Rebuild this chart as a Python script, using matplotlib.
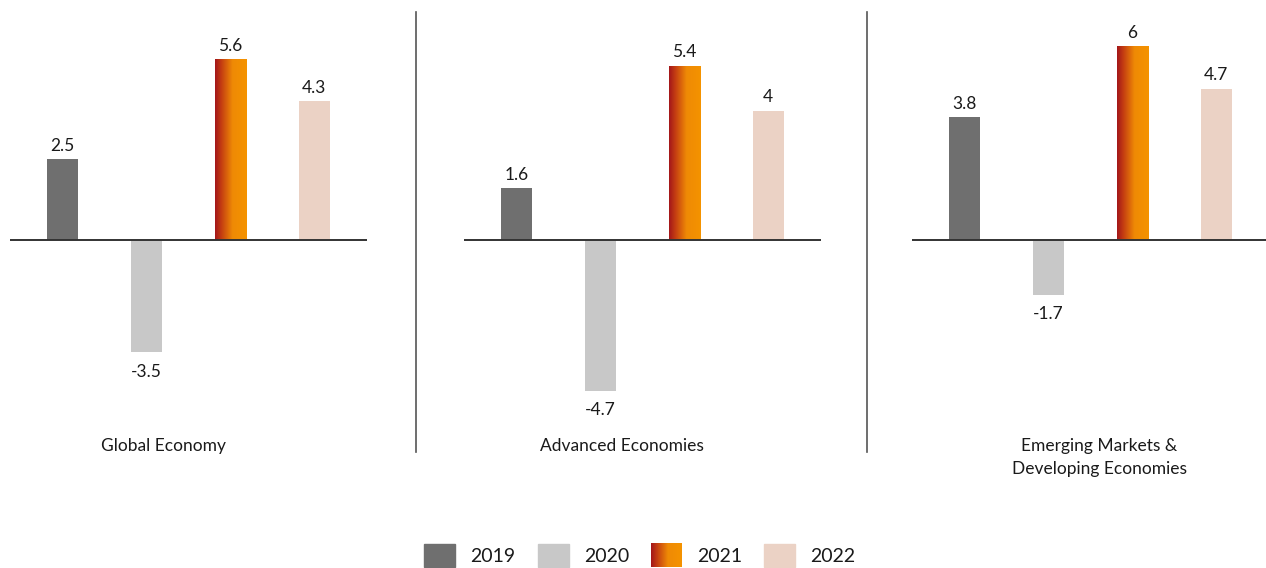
"""Crescimento do PIB por grupo de economias, 2019-2022 (três painéis)."""

import matplotlib

matplotlib.use("Agg")
import matplotlib.pyplot as plt  # noqa: E402
import numpy as np  # noqa: E402
from matplotlib.colors import LinearSegmentedColormap  # noqa: E402
from matplotlib.patches import Rectangle  # noqa: E402

plt.rcParams["font.family"] = ["Lato", "DejaVu Sans"]

years = ["2019", "2020", "2021", "2022"]
groups = ["Global Economy", "Advanced Economies", "Emerging Markets &\nDeveloping Economies"]
global_vals = [2.5, -3.5, 5.6, 4.3]
advanced_vals = [1.6, -4.7, 5.4, 4.0]
emerging_vals = [3.8, -1.7, 6.0, 4.7]
values = [global_vals, advanced_vals, emerging_vals]

COLORS = ["#6f6f6f", "#c8c8c8", None, "#ebd2c5"]
GRAD = LinearSegmentedColormap.from_list(
    "ing", [(0, "#a3161a"), (0.2, "#c43d12"), (0.55, "#ef8a05"), (1, "#f59300")])
TEXT = "#1a1a1a"

W, H = 1266, 568
fig = plt.figure(figsize=(W / 100, H / 100), dpi=100)

BAR_W = 0.37
XLIM = (-0.63, 3.63)
YLIM = (-6.5, 7.45)
lefts = [10, 464, 912]
label_cx = [164, 622, 1099]  # centro (px) do nome do grupo sob cada painel


def fx(px):
    return px / W


def fy(py):
    return 1 - py / H


for left, grupo, vals in zip(lefts, groups, values):
    ax = fig.add_axes((fx(left), fy(449), fx(357), 449 / H))
    ax.set_xlim(*XLIM)
    ax.set_ylim(*YLIM)
    ax.axis("off")
    xs = np.arange(len(years))
    for i, (x, v) in enumerate(zip(xs, vals)):
        if COLORS[i] is None:
            grad = np.linspace(0, 1, 256).reshape(1, -1)
            ax.imshow(grad, cmap=GRAD, aspect="auto", zorder=2,
                      extent=(x - BAR_W / 2, x + BAR_W / 2, 0, v))
        else:
            ax.bar(x, v, width=BAR_W, color=COLORS[i], zorder=2)
        txt = f"{v:g}"
        if v >= 0:
            ax.annotate(txt, (x, v), xytext=(0, 4), textcoords="offset points",
                        ha="center", va="bottom", fontsize=12.5, color=TEXT)
        else:
            ax.annotate(txt, (x, v), xytext=(0, -8), textcoords="offset points",
                        ha="center", va="top", fontsize=12.5, color=TEXT)
    ax.set_xlim(*XLIM)
    ax.set_ylim(*YLIM)
    ax.axhline(0, color="#333333", lw=1.4, zorder=3)

for cx, grupo in zip(label_cx, groups):
    fig.text(fx(cx), fy(438), grupo, ha="center", va="top", fontsize=12.5,
             color=TEXT, linespacing=1.55)

# separadores verticais entre painéis
for xsep in [416, 867]:
    fig.add_artist(plt.Line2D([fx(xsep)] * 2, [fy(12), fy(452)],
                              color="#555555", lw=1.2))

# legenda manual (para suportar o gradiente do 2021)
lax = fig.add_axes((0, 0, 1, 1), zorder=-1)
lax.set_xlim(0, W)
lax.set_ylim(H, 0)
lax.axis("off")
leg_x = [424, 538, 651, 764]
for i, (x0, ano) in enumerate(zip(leg_x, years)):
    if COLORS[i] is None:
        grad = np.linspace(0, 1, 256).reshape(1, -1)
        lax.imshow(grad, cmap=GRAD, aspect="auto", extent=(x0, x0 + 31, 567, 543))
    else:
        lax.add_patch(Rectangle((x0, 544), 31, 23, color=COLORS[i]))
    lax.text(x0 + 46, 556, ano, ha="left", va="center", fontsize=14, color=TEXT)
lax.set_xlim(0, W)
lax.set_ylim(H, 0)

fig.savefig("out.png", dpi=100)
plt.close(fig)
